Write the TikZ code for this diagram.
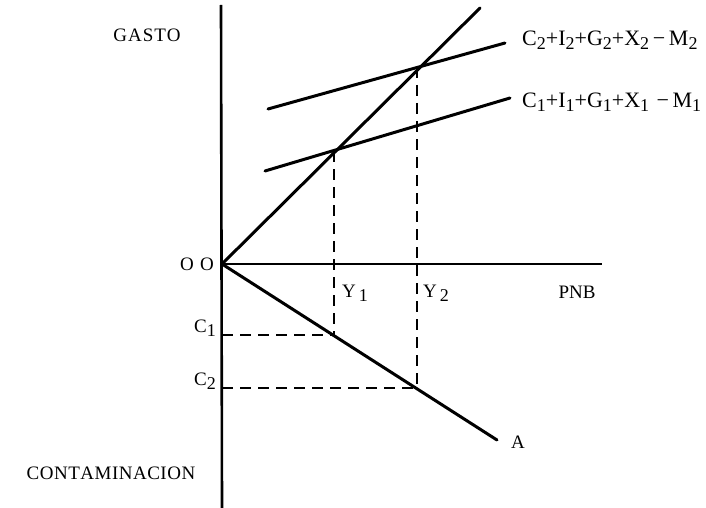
\documentclass[tikz,border=0pt]{standalone}
\usepackage{fontspec}
\setmainfont{Liberation Serif}
\newcommand{\lowsub}[1]{\raisebox{-0.45ex}{\fontsize{18}{18}\selectfont #1}}
\begin{document}
\begin{tikzpicture}[x=1pt,y=-1pt,
  axisline/.style={line width=2.6pt},
  curve/.style={line width=3pt, line cap=round},
  guide/.style={line width=1.5pt, dash pattern=on 11pt off 7pt},
  lbl/.style={font=\fontsize{19}{22}\selectfont, inner sep=0pt},
  eqlbl/.style={font=\fontsize{22}{26}\selectfont, inner sep=0pt, anchor=west}]
\useasboundingbox (0,0) rectangle (706,508);
% key points
\coordinate (O) at (222,264);
\coordinate (vtop) at (221,5);
\coordinate (vbot) at (222,508);
\coordinate (hend) at (602,264);
\coordinate (dtop) at (480,8);
\coordinate (c1s) at (265,171);
\coordinate (c1e) at (510,98);
\coordinate (c2s) at (268,109);
\coordinate (c2e) at (505,43);
\coordinate (aend) at (497,440);
\coordinate (p1) at (334,151);
\coordinate (p2) at (417,67);
\coordinate (q1) at (334,335);
\coordinate (q2) at (417,388);
\coordinate (l1) at (222,335);
\coordinate (l2) at (222,388);
% axes
\draw[axisline] (vtop) -- (vbot);
\draw[axisline] (O) -- (hend);
% lines
\draw[curve] (O) -- (dtop);
\draw[curve] (c1s) -- (c1e);
\draw[curve] (c2s) -- (c2e);
\draw[curve] (O) -- (aend);
% dashed guides
\draw[guide] (p1) -- (q1);
\draw[guide] (p2) -- (q2);
\draw[guide] (l1) -- (q1);
\draw[guide] (l2) -- (q2);
% labels
\node[lbl] (gasto) at (147,35) {G\kern1ptA\kern1ptS\kern1ptT\kern1ptO};
\node[lbl] (cont) at (111,473) {C\kern0.5ptO\kern0.5ptN\kern0.5ptT\kern0.5ptA\kern0.5ptM\kern0.5ptI\kern0.5ptN\kern0.5ptA\kern0.5ptC\kern0.5ptI\kern0.5ptO\kern0.5ptN};
\node[lbl, anchor=east] (oo) at (214,264) {O\,\,O};
\node[lbl] (c1l) at (205,328) {C\lowsub{1}};
\node[lbl] (c2l) at (205,381) {C\lowsub{2}};
\node[lbl] (y1l) at (355,293) {Y\,\lowsub{1}};
\node[lbl] (y2l) at (436,293) {Y\,\lowsub{2}};
\node[lbl] (pnb) at (577,292) {PNB};
\node[lbl] (al) at (518,442) {A};
\node[eqlbl] (eq2) at (522,40) {C\lowsub{2}+I\lowsub{2}+G\lowsub{2}+X\lowsub{2}\,\textminus\,M\lowsub{2}};
\node[eqlbl] (eq1) at (522,102) {C\lowsub{1}+I\lowsub{1}+G\lowsub{1}+X\lowsub{1}\,\,\textminus\,M\lowsub{1}};
\end{tikzpicture}
\end{document}
